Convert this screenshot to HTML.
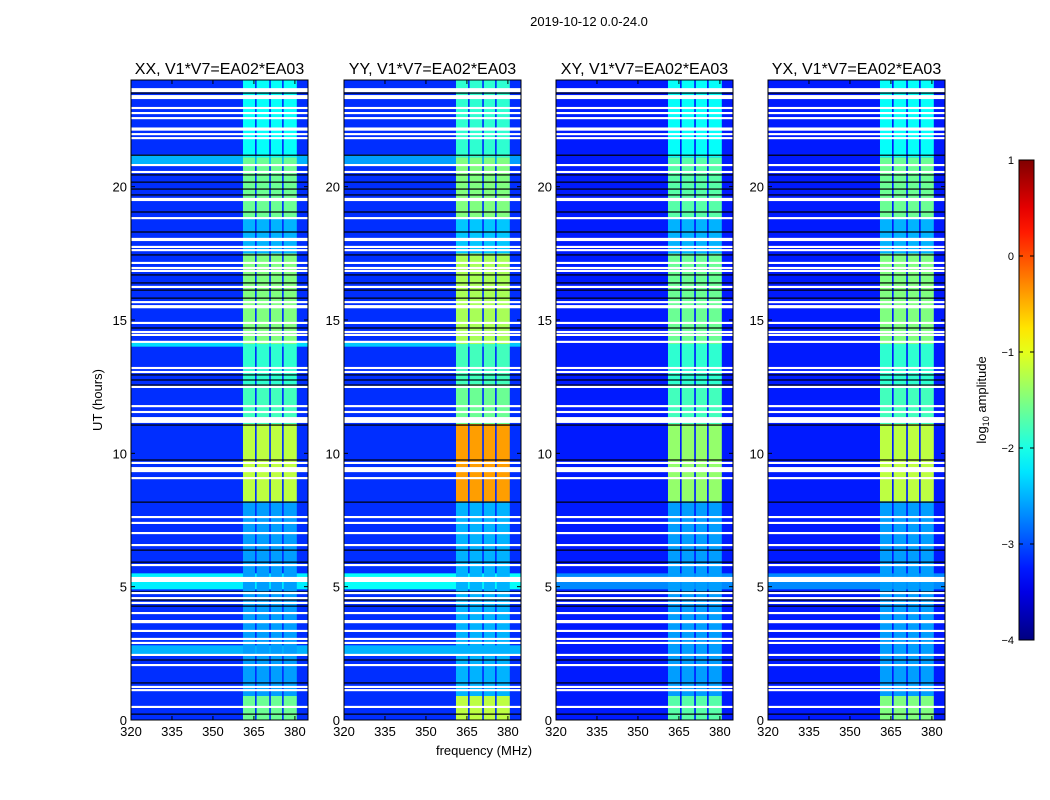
<!DOCTYPE html>
<html><head><meta charset="utf-8">
<style>
body{margin:0;background:#fff;width:1050px;height:800px;overflow:hidden;font-family:"Liberation Sans",sans-serif;}
</style></head>
<body>
<svg id="fig" width="1050" height="800" xmlns="http://www.w3.org/2000/svg" style="position:absolute;left:0;top:0"></svg>
<script>
// ---- data ----
const panelNames = ["XX, V1*V7=EA02*EA03","YY, V1*V7=EA02*EA03","XY, V1*V7=EA02*EA03","YX, V1*V7=EA02*EA03"];
const xTicks = [320,335,350,365,380];
const yTicks = [0,5,10,15,20];
const cbTicks = [1,0,-1,-2,-3,-4];
// flagged (white) rows: [time hours, thickness hours]
const flagRows = [[23.62,0.15],[23.36,0.15],[22.95,0.08],[22.76,0.08],[22.57,0.08],[22.16,0.12],[21.97,0.08],[21.82,0.08],[20.81,0.08],[20.55,0.08],[19.52,0.12],[18.82,0.08],[18.02,0.12],[17.74,0.08],[17.62,0.08],[17.14,0.08],[16.95,0.08],[16.84,0.08],[16.24,0.08],[15.67,0.08],[15.50,0.12],[14.89,0.08],[14.55,0.08],[14.44,0.08],[14.18,0.08],[13.20,0.08],[13.05,0.08],[12.49,0.08],[11.77,0.08],[11.55,0.08],[11.25,0.22],[9.64,0.08],[9.39,0.19],[9.07,0.08],[7.61,0.08],[7.39,0.08],[7.01,0.08],[6.56,0.08],[5.81,0.08],[5.27,0.19],[4.76,0.08],[4.57,0.08],[4.39,0.08],[4.01,0.08],[3.69,0.12],[3.34,0.08],[3.04,0.08],[2.89,0.08],[2.44,0.08],[2.06,0.08],[1.24,0.08],[1.12,0.08],[0.49,0.08]];
// black rows (hours)
const blackRows = [23.51,21.18,20.44,20.17,19.91,19.69,19.05,18.30,17.44,16.69,16.39,16.12,15.82,14.70,12.94,12.75,12.56,11.06,9.75,8.17,6.37,5.92,4.80,4.50,4.27,2.25,1.39,0.22];
// sub-band edges (MHz)
const subBands = [[361,365.4],[366,370.6],[371.2,375.3],[375.9,380.7]];
// bright block intensity per panel: [t0,t1,log10 amp]
const blocksXX = [[0,0.9,-1.6],[0.9,8.2,-2.6],[8.2,11.1,-1.2],[11.1,12.6,-1.8],[12.6,14.1,-1.9],[14.1,17.5,-1.5],[17.5,18.8,-2.5],[18.8,21.1,-1.6],[21.1,24,-2.1]];
const blocksYY = [[0,0.9,-1.2],[0.9,8.2,-2.5],[8.2,11.1,-0.4],[11.1,12.6,-1.6],[12.6,14.1,-1.8],[14.1,17.5,-1.3],[17.5,18.8,-2.4],[18.8,21.1,-1.5],[21.1,24,-1.9]];
const blocksXY = [[0,0.9,-1.7],[0.9,8.2,-2.6],[8.2,11.1,-1.4],[11.1,12.6,-1.8],[12.6,14.1,-1.9],[14.1,17.5,-1.6],[17.5,18.8,-2.5],[18.8,21.1,-1.7],[21.1,24,-2.1]];
const blocksYX = [[0,0.9,-1.5],[0.9,8.2,-2.6],[8.2,11.1,-1.2],[11.1,12.6,-1.8],[12.6,14.1,-1.9],[14.1,17.5,-1.5],[17.5,18.8,-2.5],[18.8,21.1,-1.6],[21.1,24,-2.1]];
// background bands: [t0,t1,log10 amp]
const bgXX = [[0,24,-3.15],[2.4,2.8,-2.5],[4.9,5.5,-2.2],[20.8,21.2,-2.5],[14.0,14.2,-2.3]];
const bgYY = [[0,24,-3.15],[2.4,2.8,-2.5],[4.9,5.5,-2.1],[20.8,21.2,-2.6],[14.0,14.2,-2.4]];
const bgXY = [[0,24,-3.25],[4.9,5.5,-2.7]];
const bgYX = [[0,24,-3.25],[4.9,5.5,-2.7]];
const panelBlocks=[blocksXX,blocksYY,blocksXY,blocksYX];
const panelBg=[bgXX,bgYY,bgXY,bgYX];

// ---- layout ----
const NS="http://www.w3.org/2000/svg";
const svg=document.getElementById('fig');
const panelX=[131,344,556,768], PW=177, PT=80, PB=720;
const fMin=320,fMax=384.8,tMin=0,tMax=24;
const cMin=-4,cMax=1;
function cl(v){return Math.max(0,Math.min(1,v));}
function jet(val){const v=cl((val-cMin)/(cMax-cMin));
 return `rgb(${Math.round(255*cl(1.5-Math.abs(4*v-3)))},${Math.round(255*cl(1.5-Math.abs(4*v-2)))},${Math.round(255*cl(1.5-Math.abs(4*v-1)))})`;}
function mk(tag,attrs,parent){const e=document.createElementNS(NS,tag);for(const k in attrs)e.setAttribute(k,attrs[k]);(parent||svg).appendChild(e);return e;}
function txt(s,x,y,size,anchor,parent){const e=mk('text',{x:x,y:y,'font-size':size,'text-anchor':anchor||'middle','font-family':'Liberation Sans, sans-serif',fill:'#000'},parent);e.textContent=s;return e;}

const title=txt("2019-10-12 0.0-24.0",589,26,13);



panelX.forEach((x0,p)=>{
 const xs=f=>x0+(f-fMin)/(fMax-fMin)*PW;
 const ys=t=>PB-(t-tMin)/(tMax-tMin)*(PB-PT);
 const g=mk('g',{});
 
 
 panelBg[p].forEach(b=>{const r=mk('rect',{x:xs(fMin),y:ys(b[1]),width:xs(fMax)-xs(fMin),height:ys(b[0])-ys(b[1]),fill:jet(b[2])},g);
  });
 panelBlocks[p].forEach(b=>{subBands.forEach(sb=>{const r=mk('rect',{x:xs(sb[0]),y:ys(b[1]),width:xs(sb[1])-xs(sb[0]),height:ys(b[0])-ys(b[1]),fill:jet(b[2])},g);
  });});
 blackRows.forEach(t=>{const r=mk('rect',{x:xs(fMin),y:ys(t)-0.6,width:PW,height:1.2,fill:'#000'},g);
  });
 flagRows.forEach(fr=>{const r=mk('rect',{x:xs(fMin),y:ys(fr[0]+fr[1]/2),width:PW,height:ys(fr[0]-fr[1]/2)-ys(fr[0]+fr[1]/2),fill:'#fff'},g);
  });
 const fr=mk('rect',{x:x0,y:PT,width:PW,height:PB-PT,fill:'none',stroke:'#000','stroke-width':1},g);
 
 xTicks.forEach(v=>{const X=xs(v);mk('line',{x1:X,x2:X,y1:PB,y2:PB-4,stroke:'#000'},g);mk('line',{x1:X,x2:X,y1:PT,y2:PT+4,stroke:'#000'},g);
  const l=txt(String(v),X,736,13,'middle',g);});
 yTicks.forEach(v=>{const Y=ys(v);mk('line',{x1:x0,x2:x0+4,y1:Y,y2:Y,stroke:'#000'},g);mk('line',{x1:x0+PW,x2:x0+PW-4,y1:Y,y2:Y,stroke:'#000'},g);
  const l=txt(String(v),x0-4,Y+5,13,'end',g);});
 const t=txt(panelNames[p],x0+PW/2,74,16,'middle',g);
 
});
const yl=txt("UT (hours)",0,0,13);yl.setAttribute('transform','translate(102,400) rotate(-90)');

const xl=txt("frequency (MHz)",484,755,13);


// colorbar
const CX=1019,CW=15,CT=160,CB=640;
const defs=mk('defs',{});const lg=mk('linearGradient',{id:'jetg',x1:0,y1:1,x2:0,y2:0},defs);
for(let i=0;i<=20;i++){const v=cMin+(cMax-cMin)*i/20;mk('stop',{offset:i/20,'stop-color':jet(v)},lg);}
const cb=mk('rect',{x:CX,y:CT,width:CW,height:CB-CT,fill:'url(#jetg)',stroke:'#000'});

cbTicks.forEach(v=>{const Y=CB-(v-cMin)/(cMax-cMin)*(CB-CT);
 mk('line',{x1:CX,x2:CX+4,y1:Y,y2:Y,stroke:'#000'});mk('line',{x1:CX+CW,x2:CX+CW-4,y1:Y,y2:Y,stroke:'#000'});
 const l=txt(v<0?'\u2212'+(-v):String(v),1014,Y+4,11,'end');});
const cl2=mk('text',{transform:'translate(986,400) rotate(-90)','font-size':13,'text-anchor':'middle','font-family':'Liberation Sans, sans-serif'});
cl2.innerHTML='log<tspan font-size="9" dy="3">10</tspan><tspan dy="-3"> amplitude</tspan>';

</script>
</body></html>
